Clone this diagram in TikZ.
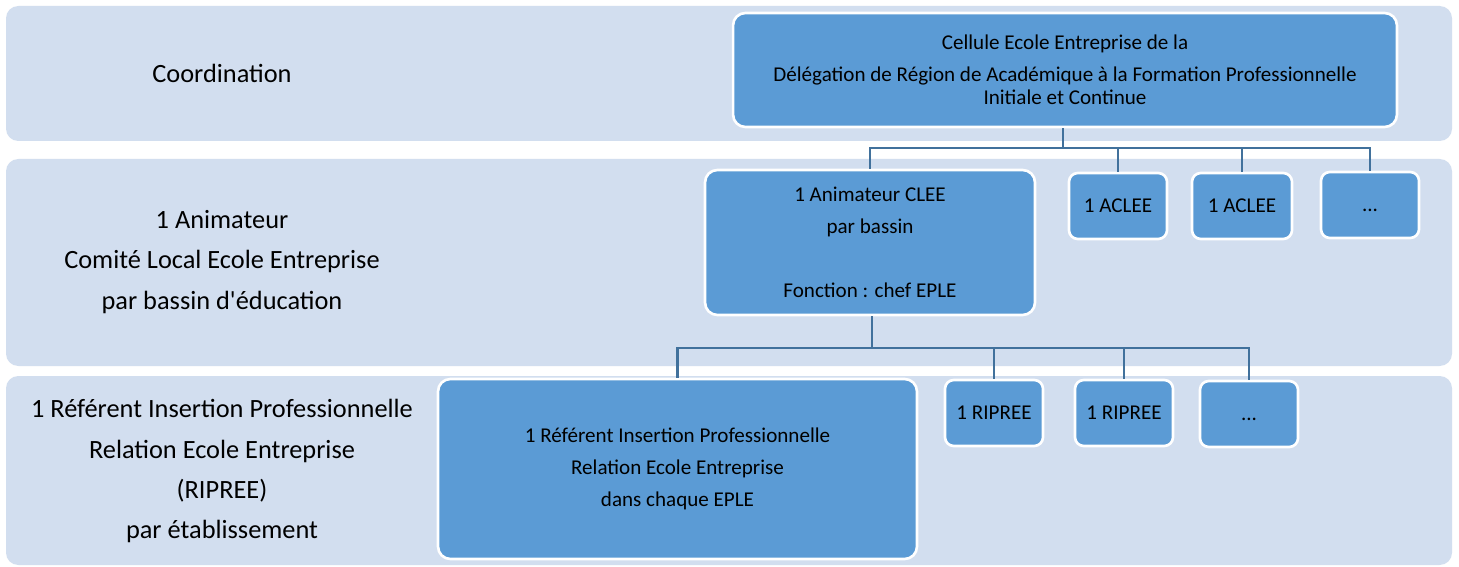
\documentclass[tikz,border=0pt]{standalone}
\usepackage{fontspec}
\setmainfont{Carlito}
\usetikzlibrary{positioning}

\definecolor{bandblue}{RGB}{210,222,239}
\definecolor{boxblue}{RGB}{91,155,213}
\definecolor{linkblue}{RGB}{65,113,156}

\tikzset{
  band/.style={fill=bandblue, rounded corners=7pt},
  box/.style={draw=white, line width=1.5pt, fill=boxblue, rounded corners=7pt,
    align=center, inner sep=0pt, font=\fontsize{12}{18.2}\selectfont},
  smallbox/.style={box, rounded corners=5pt, minimum width=1.96cm, minimum height=1.32cm},
  level/.style={align=center, font=\fontsize{15}{22.8}\selectfont},
  link/.style={draw=linkblue, line width=1.2pt},
}

\begin{document}
\begin{tikzpicture}[x=0.02cm, y=-0.02cm]
  \fill[white] (0,0) rectangle (1459,567);
  \useasboundingbox (0,0) rectangle (1459,567);

  % bands
  \fill[band] (6,6) rectangle (1452,141);
  \fill[band] (6,159) rectangle (1452,366);
  \fill[band] (6,376) rectangle (1452,565);

  % level labels
  \node[level] (lvlA) at (222,73) {Coordination};
  \node[level] (lvlB) at (222,262) {1 Animateur\\Comité Local Ecole Entreprise\\par bassin d\textquotesingle éducation};
  \node[level] (lvlC) at (222,471) {1 Référent Insertion Professionnelle\\Relation Ecole Entreprise\\(RIPREE)\\par établissement};

  % boxes
  \node[box, minimum width=13.28cm, minimum height=2.28cm] (cellule) at (1065,70)
    {Cellule Ecole Entreprise de la\\Délégation de Région de Académique à la Formation Professionnelle\\[-5.2pt]Initiale et Continue};
  \node[box, minimum width=6.6cm, minimum height=2.9cm] (anim) at (870,242.5)
    {1 Animateur CLEE\\par bassin\\[18.5pt]Fonction : chef EPLE};
  \node[smallbox] (acleeA) at (1118,206) {1 ACLEE};
  \node[smallbox, minimum width=2cm] (acleeB) at (1242,206) {1 ACLEE};
  \node[smallbox] (acleeC) at (1370,205) {\vphantom{1}...};

  \node[box, minimum width=9.58cm, minimum height=3.6cm] (ref) at (677.5,469)
    {1 Référent Insertion Professionnelle\\Relation Ecole Entreprise\\dans chaque EPLE};
  \node[smallbox] (ripA) at (994,413) {1 RIPREE};
  \node[smallbox] (ripB) at (1124,413) {1 RIPREE};
  \node[smallbox] (ripC) at (1249,414) {\vphantom{1}...};

  % connectors
  \coordinate (busA) at (1063,148);
  \coordinate (busB) at (872,348);
  \draw[link] (cellule.south -| busA) -- (busA);
  \draw[link] (anim.north) |- (busA) -| (acleeC.north);
  \foreach \n in {acleeA,acleeB}
    \draw[link] (\n.north) -- (\n.north |- busA);
  \draw[link] (anim.south -| busB) -- (busB);
  \draw[link] (ref.north) |- (busB) -| (ripC.north);
  \foreach \n in {ripA,ripB}
    \draw[link] (\n.north) -- (\n.north |- busB);
\end{tikzpicture}
\end{document}
